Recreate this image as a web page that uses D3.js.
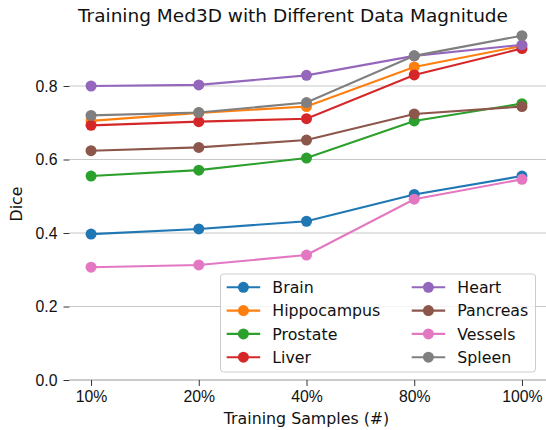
<!DOCTYPE html>
<html>
<head>
<meta charset="utf-8">
<script src="https://cdn.jsdelivr.net/npm/d3@7"></script>
<style>
  body { margin: 0; background: #fff; }
  svg { display: block; font-family: "DejaVu Sans", sans-serif; }
</style>
</head>
<body>
<svg width="546" height="430"></svg>
<script>
// categories on the x axis
var samples = ["10%", "20%", "40%", "80%", "100%"];
// series names, in drawing order
var organs = ["Brain", "Hippocampus", "Prostate", "Liver", "Heart", "Pancreas", "Vessels", "Spleen"];
// dice values per series
var brain       = [0.397, 0.411, 0.432, 0.505, 0.555];
var hippocampus = [0.705, 0.727, 0.744, 0.852, 0.909];
var prostate    = [0.555, 0.571, 0.604, 0.705, 0.752];
var liver       = [0.693, 0.703, 0.711, 0.830, 0.902];
var heart       = [0.800, 0.803, 0.829, 0.882, 0.912];
var pancreas    = [0.624, 0.633, 0.653, 0.724, 0.744];
var vessels     = [0.307, 0.313, 0.340, 0.492, 0.546];
var spleen      = [0.720, 0.728, 0.755, 0.882, 0.937];
var yTicks = [0.0, 0.2, 0.4, 0.6, 0.8];
var colors = ["#1f77b4", "#ff7f0e", "#2ca02c", "#d62728", "#9467bd", "#8c564b", "#e377c2", "#7f7f7f"];

var values = [brain, hippocampus, prostate, liver, heart, pancreas, vessels, spleen];

var svg = d3.select("svg");

var x = d3.scalePoint().domain(samples).range([69.5, 543.5]).padding(0.2);
var y = d3.scaleLinear().domain([0, 0.966]).range([380, 25]);

// grid lines
svg.append("g").selectAll("line")
    .data(yTicks)
  .enter().append("line")
    .attr("x1", 69.5).attr("x2", 546)
    .attr("y1", function(d) { return y(d); })
    .attr("y2", function(d) { return y(d); })
    .style("stroke", "#c8c8c8")
    .style("stroke-width", 1.2);

// y axis
var yAxis = svg.append("g").attr("transform", "translate(69.5,0)")
    .call(d3.axisLeft(y).tickValues(yTicks).tickFormat(d3.format(".1f")).tickSize(6).tickPadding(6));
yAxis.select(".domain").remove();
yAxis.selectAll(".tick line").style("stroke", "#333").style("stroke-width", 1);
yAxis.selectAll("text").style("font-size", "15.8px").style("fill", "#111");

// x axis
var xAxis = svg.append("g").attr("transform", "translate(0,380)")
    .call(d3.axisBottom(x).tickSize(6).tickPadding(5).tickSizeOuter(0));
xAxis.select(".domain").attr("d", "M69.5,0H546").style("stroke", "#b4b4b4").style("stroke-width", 1.2);
xAxis.selectAll(".tick line").style("stroke", "#333").style("stroke-width", 1);
xAxis.selectAll("text").style("font-size", "15.8px").style("fill", "#111");

// series
var line = d3.line()
    .x(function(d, i) { return x(samples[i]); })
    .y(function(d) { return y(d); });

organs.forEach(function(name, k) {
  var g = svg.append("g");
  g.append("path")
    .datum(values[k])
    .attr("d", line)
    .style("fill", "none")
    .style("stroke", colors[k])
    .style("stroke-width", 2.1);
  g.selectAll("circle")
    .data(values[k])
  .enter().append("circle")
    .attr("cx", function(d, i) { return x(samples[i]); })
    .attr("cy", function(d) { return y(d); })
    .attr("r", 5.5)
    .style("fill", colors[k]);
});

// title and axis labels
svg.append("text")
    .attr("x", 293).attr("y", 22)
    .attr("text-anchor", "middle")
    .style("font-size", "18.5px").style("fill", "#111")
    .text("Training Med3D with Different Data Magnitude");
svg.append("text")
    .attr("x", 306.5).attr("y", 424)
    .attr("text-anchor", "middle")
    .style("font-size", "15.8px").style("fill", "#111")
    .text("Training Samples (#)");
svg.append("text")
    .attr("transform", "translate(22,204) rotate(-90)")
    .attr("text-anchor", "middle")
    .style("font-size", "15.8px").style("fill", "#111")
    .text("Dice");

// legend
var legend = svg.append("g");
legend.append("rect")
    .attr("x", 220.5).attr("y", 274).attr("width", 315).attr("height", 98)
    .attr("rx", 3)
    .style("fill", "#fff").style("fill-opacity", 0.8)
    .style("stroke", "#cccccc").style("stroke-width", 1);

var items = legend.selectAll("g.item")
    .data(organs)
  .enter().append("g")
    .attr("class", "item")
    .attr("transform", function(d, i) {
      var col = Math.floor(i / 4), row = i % 4;
      return "translate(" + (226.7 + col * 185) + "," + (287.3 + row * 23.3) + ")";
    });
items.append("line")
    .attr("x1", 0).attr("x2", 33.5).attr("y1", 0).attr("y2", 0)
    .style("stroke", function(d, i) { return colors[i]; })
    .style("stroke-width", 2.1);
items.append("circle")
    .attr("cx", 16.7).attr("cy", 0).attr("r", 5.5)
    .style("fill", function(d, i) { return colors[i]; });
items.append("text")
    .attr("x", 45.6).attr("y", 5.7)
    .style("font-size", "15.8px").style("fill", "#111")
    .text(function(d) { return d; });
</script>
</body>
</html>
